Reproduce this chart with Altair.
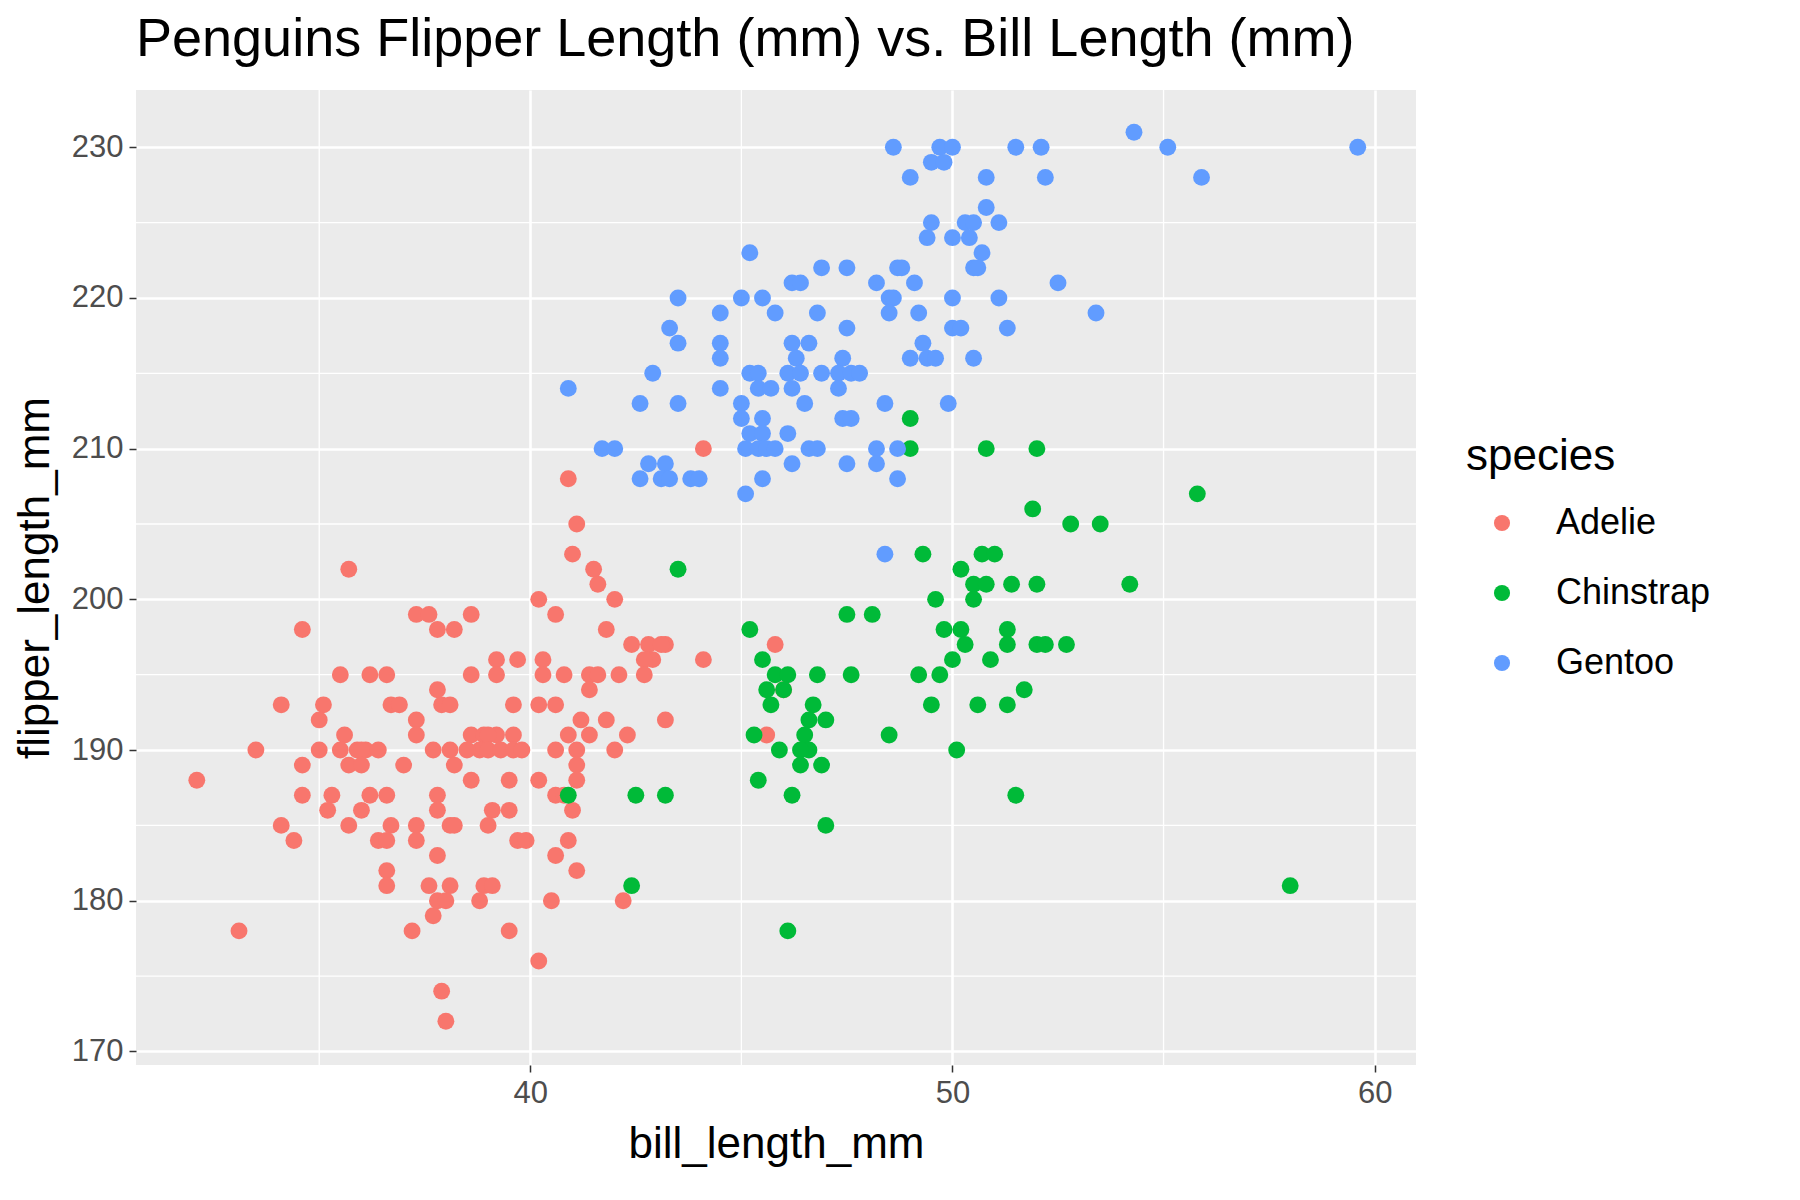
import altair as alt
import pandas as pd

adelie_bill = [44.1,40.9,41.1,41.0,41.5,41.6,35.7,40.2,42.0,40.6,37.3,37.6,38.6,34.6,37.8,38.2,41.8,42.4,42.8,43.2,43.1,45.8,39.2,39.7,40.3,42.9,42.7,44.1,35.5,36.2,36.6,38.6,39.2,40.3,40.8,41.4,41.6,42.1,42.7,37.8,41.4,46.0,34.1,35.1,36.7,36.9,37.9,38.1,39.6,40.6,40.2,35.0,37.3,41.2,41.8,43.2,35.6,37.3,38.6,38.9,39.2,39.0,39.6,40.9,41.4,42.3,45.6,33.5,35.0,35.5,35.9,36.1,36.4,36.0,37.7,38.1,38.8,38.5,39.0,39.3,39.6,39.8,40.6,41.1,42.0,35.7,36.0,34.6,37.0,38.2,41.1,32.1,38.6,39.5,40.2,41.1,34.6,35.3,36.2,36.6,37.8,40.6,40.8,35.2,36.0,37.8,39.1,39.5,41.0,34.1,35.7,36.7,37.3,38.1,38.2,39.0,36.4,36.6,34.4,37.3,39.7,39.9,40.9,37.8,40.6,36.6,41.1,36.6,37.6,38.1,38.9,39.1,37.8,38.0,38.8,40.5,42.2,37.7,33.1,37.2,39.5,40.2,37.9,38.0]
adelie_flip = [210,208,205,203,202,201,202,200,200,199,199,199,199,198,198,198,198,197,197,197,197,197,196,196,196,196,196,196,195,195,195,195,195,195,195,195,195,195,195,194,194,194,193,193,193,193,193,193,193,193,193,192,192,192,192,192,191,191,191,191,191,191,191,191,191,191,191,190,190,190,190,190,190,190,190,190,190,190,190,190,190,190,190,190,190,189,189,189,189,189,189,188,188,188,188,188,187,187,187,187,187,187,187,186,186,186,186,186,186,185,185,185,185,185,185,185,184,184,184,184,184,184,184,183,183,182,182,181,181,181,181,181,180,180,180,180,180,179,178,178,178,176,174,172]

chin_bill = [49.0,49.0,50.8,52.0,55.8,51.9,52.8,53.5,43.5,50.2,49.3,50.7,51.0,50.5,50.8,51.4,52.0,54.2,47.5,48.1,49.6,50.5,45.2,49.8,50.2,51.3,52.0,52.2,52.7,50.3,51.3,45.5,50.0,50.9,45.8,46.1,46.8,47.6,49.2,49.7,45.6,46.0,51.7,45.7,46.7,49.5,50.6,51.3,46.6,47.0,46.5,45.3,48.5,46.6,45.9,46.4,50.1,46.4,46.9,45.4,40.9,42.5,43.2,46.2,51.5,47.0,42.4,58.0,46.1]
chin_flip = [212,210,210,210,207,206,205,205,202,202,203,203,203,201,201,201,201,201,199,199,200,200,198,198,198,198,197,197,197,197,197,196,196,196,195,195,195,195,195,195,194,194,194,193,193,193,193,193,192,192,191,191,191,190,190,190,190,189,189,188,187,187,187,187,187,185,181,181,178]

gentoo_bill = [48.6,49.7,50.0,51.5,52.1,59.6,54.3,55.1,49.5,49.8,49.0,50.8,52.2,55.9,50.8,50.3,51.1,49.5,50.5,49.4,50.0,50.4,45.2,50.7,50.5,50.6,46.9,47.5,48.7,48.8,46.2,46.4,48.2,49.1,52.5,43.5,45.0,45.5,48.5,48.6,50.0,51.1,44.5,45.8,46.8,48.5,49.2,53.4,43.3,47.5,50.0,50.2,51.3,43.5,44.5,46.2,46.6,49.3,44.5,46.3,47.4,49.0,49.4,49.6,50.5,42.9,45.2,45.4,46.1,46.4,46.9,47.3,47.6,47.8,40.9,44.5,45.4,45.7,46.2,47.3,42.6,43.5,45.0,46.5,48.4,49.9,45.0,45.5,47.4,47.6,45.2,45.5,46.1,41.7,42.0,45.1,45.4,45.6,45.8,46.6,46.8,48.2,48.7,42.8,43.2,46.2,47.5,48.2,42.6,43.1,43.3,43.8,44.0,45.5,48.7,45.1,48.4]
gentoo_flip = [230,230,230,230,230,230,231,230,229,229,228,228,228,228,226,225,225,225,225,224,224,224,223,223,222,222,222,222,222,222,221,221,221,221,221,220,220,220,220,220,220,220,219,219,219,219,219,219,218,218,218,218,218,217,217,217,217,217,216,216,216,216,216,216,216,215,215,215,215,215,215,215,215,215,214,214,214,214,214,214,213,213,213,213,213,213,212,212,212,212,211,211,211,210,210,210,210,210,210,210,210,210,210,209,209,209,209,209,208,208,208,208,208,208,208,207,203]

minor_x = [35, 45, 55]
minor_y = [175, 185, 195, 205, 215, 225]

df = pd.concat([
    pd.DataFrame({"bill_length_mm": adelie_bill, "flipper_length_mm": adelie_flip, "species": "Adelie"}),
    pd.DataFrame({"bill_length_mm": chin_bill, "flipper_length_mm": chin_flip, "species": "Chinstrap"}),
    pd.DataFrame({"bill_length_mm": gentoo_bill, "flipper_length_mm": gentoo_flip, "species": "Gentoo"}),
])

xs = alt.Scale(domain=[30.66, 60.98], nice=False, zero=False)
ys = alt.Scale(domain=[169.1, 233.8], nice=False, zero=False)

vx = alt.Chart(pd.DataFrame({"v": minor_x})).mark_rule(color="white", strokeWidth=1.3).encode(
    x=alt.X("v:Q", scale=xs))
hy = alt.Chart(pd.DataFrame({"v": minor_y})).mark_rule(color="white", strokeWidth=1.3).encode(
    y=alt.Y("v:Q", scale=ys))

pts = alt.Chart(df).mark_circle(size=285, opacity=1).encode(
    x=alt.X("bill_length_mm:Q", scale=xs, title="bill_length_mm",
            axis=alt.Axis(values=[40, 50, 60])),
    y=alt.Y("flipper_length_mm:Q", scale=ys, title="flipper_length_mm",
            axis=alt.Axis(values=[170, 180, 190, 200, 210, 220, 230])),
    color=alt.Color("species:N", title="species",
                    scale=alt.Scale(domain=["Adelie", "Chinstrap", "Gentoo"],
                                    range=["#F8766D", "#00BA38", "#619CFF"]),
                    legend=alt.Legend(orient="none", legendX=1330, legendY=345,
                                      symbolSize=260, labelFontSize=36, titleFontSize=44,
                                      titleFontWeight="normal", rowPadding=34, titlePadding=26,
                                      labelFont="Liberation Sans", labelOffset=36,
                                      titleFont="Liberation Sans", symbolOffset=18)),
)

chart = alt.layer(vx, hy, pts).properties(
    width=1280, height=975,
    title=alt.Title("Penguins Flipper Length (mm) vs. Bill Length (mm)", anchor="start", frame="group",
                    fontSize=54, fontWeight="normal", font="Liberation Sans", color="black", offset=22),
).configure_view(fill="#EBEBEB", stroke=None).configure_axis(
    grid=True, gridColor="white", gridWidth=2.6, domain=False,
    tickColor="#333333", tickSize=7, tickWidth=1.5,
    labelFontSize=31, labelColor="#4D4D4D", labelFont="Liberation Sans",
    titleFontSize=44, titleFontWeight="normal", titleColor="black", titleFont="Liberation Sans",
    labelPadding=6, titlePadding=14,
)

chart.save("out.html", embed_options={"renderer": "svg", "actions": False})
